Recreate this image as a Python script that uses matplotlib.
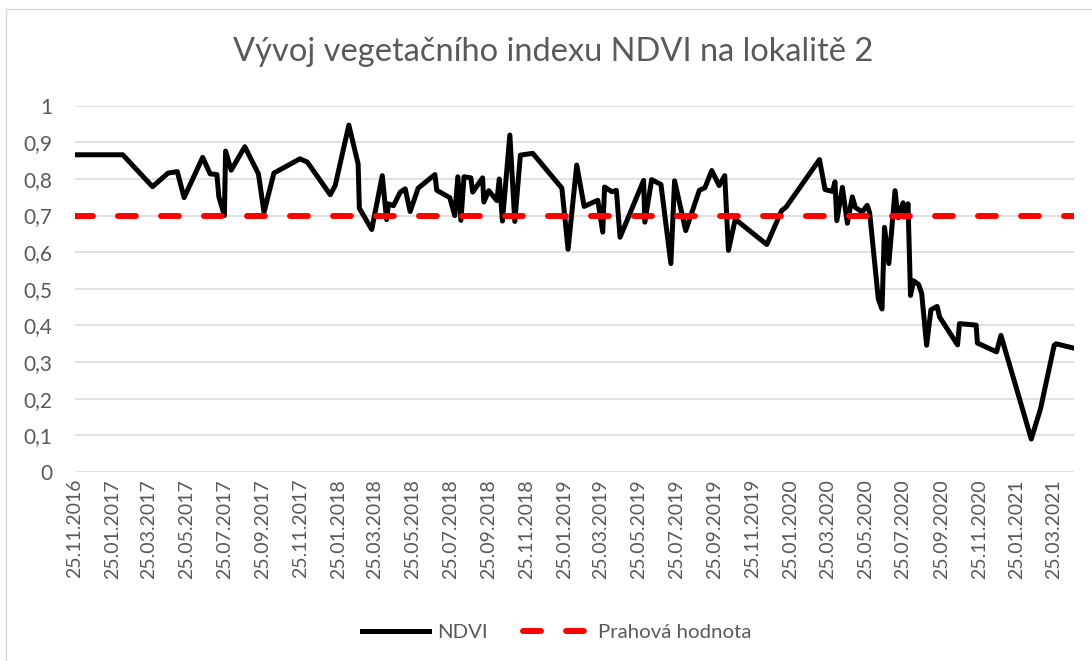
import matplotlib.pyplot as plt
import matplotlib.dates as mdates
from matplotlib.lines import Line2D
from datetime import datetime

plt.rcParams['font.family'] = ['Lato', 'DejaVu Sans']

# data
date_strings = ["25.11.2016", "11.02.2017", "31.03.2017", "25.04.2017", "10.05.2017",
                "21.05.2017", "20.06.2017", "02.07.2017", "13.07.2017", "16.07.2017",
                "25.07.2017", "27.07.2017", "05.08.2017", "27.08.2017", "18.09.2017",
                "27.09.2017", "13.10.2017", "24.11.2017", "06.12.2017", "12.01.2018",
                "20.01.2018", "11.02.2018", "26.02.2018", "28.02.2018", "20.03.2018",
                "06.04.2018", "13.04.2018", "16.04.2018", "24.04.2018", "05.05.2018",
                "13.05.2018", "21.05.2018", "03.06.2018", "30.06.2018", "03.07.2018",
                "24.07.2018", "01.08.2018", "06.08.2018", "11.08.2018", "16.08.2018",
                "27.08.2018", "30.08.2018", "15.09.2018", "17.09.2018", "25.09.2018",
                "08.10.2018", "12.10.2018", "17.10.2018", "29.10.2018", "06.11.2018",
                "15.11.2018", "05.12.2018", "21.01.2019", "31.01.2019", "14.02.2019",
                "26.02.2019", "20.03.2019", "28.03.2019", "31.03.2019", "12.04.2019",
                "19.04.2019", "25.04.2019", "02.06.2019", "04.06.2019", "15.06.2019",
                "30.06.2019", "16.07.2019", "22.07.2019", "09.08.2019", "31.08.2019",
                "09.09.2019", "20.09.2019", "02.10.2019", "11.10.2019", "17.10.2019",
                "28.10.2019", "18.12.2019", "11.01.2020", "18.01.2020", "12.03.2020",
                "21.03.2020", "02.04.2020", "06.04.2020", "09.04.2020", "18.04.2020",
                "26.04.2020", "04.05.2020", "09.05.2020", "20.05.2020", "28.05.2020",
                "01.06.2020", "15.06.2020", "21.06.2020", "25.06.2020", "02.07.2020",
                "12.07.2020", "17.07.2020", "25.07.2020", "27.07.2020", "02.08.2020",
                "06.08.2020", "11.08.2020", "19.08.2020", "24.08.2020", "01.09.2020",
                "08.09.2020", "18.09.2020", "22.09.2020", "21.10.2020", "24.10.2020",
                "20.11.2020", "22.11.2020", "23.12.2020", "30.12.2020", "17.02.2021",
                "04.03.2021", "26.03.2021", "29.03.2021", "27.04.2021"]

ndvi = [0.866, 0.866, 0.779, 0.816, 0.820, 0.749, 0.859, 0.814, 0.812, 0.752,
        0.700, 0.876, 0.824, 0.888, 0.814, 0.709, 0.816, 0.855, 0.846, 0.757,
        0.782, 0.947, 0.841, 0.720, 0.662, 0.809, 0.689, 0.732, 0.727, 0.764,
        0.773, 0.711, 0.775, 0.812, 0.769, 0.749, 0.700, 0.806, 0.687, 0.806,
        0.803, 0.764, 0.803, 0.737, 0.768, 0.741, 0.800, 0.685, 0.920, 0.684,
        0.865, 0.870, 0.775, 0.608, 0.838, 0.725, 0.742, 0.655, 0.778, 0.765,
        0.769, 0.641, 0.796, 0.682, 0.798, 0.785, 0.569, 0.795, 0.659, 0.769,
        0.776, 0.823, 0.782, 0.809, 0.605, 0.690, 0.621, 0.714, 0.723, 0.853,
        0.771, 0.766, 0.792, 0.686, 0.777, 0.679, 0.751, 0.722, 0.710, 0.728,
        0.708, 0.472, 0.445, 0.668, 0.569, 0.768, 0.694, 0.735, 0.696, 0.732,
        0.482, 0.522, 0.512, 0.488, 0.346, 0.443, 0.452, 0.423, 0.347, 0.405,
        0.401, 0.352, 0.328, 0.373, 0.090, 0.173, 0.346, 0.350, 0.338]

threshold = [0.7] * len(ndvi)

dates = [datetime.strptime(d, "%d.%m.%Y") for d in date_strings]

# popisky osy x po dvou měsících
tick_dates = []
y, m = 2016, 11
while datetime(y, m, 25) <= dates[-1]:
    tick_dates.append(datetime(y, m, 25))
    m += 2
    if m > 12:
        m -= 12
        y += 1

grey = '#595959'

fig = plt.figure(figsize=(10.92, 6.61), dpi=100)
ax = fig.add_axes([74.5 / 1092, 189 / 661, (1074 - 74.5) / 1092, (472 - 105.7) / 661])

ax.plot(dates, ndvi, color='black', linewidth=3.6, solid_joinstyle='round', label='NDVI', zorder=3)
ax.plot(dates, threshold, color='#ff0000', linewidth=4.3, linestyle=(0, (3.0, 4.2)),
        dash_capstyle='round', label='Prahová hodnota', zorder=4)

ax.set_xlim(dates[0], dates[-1])
ax.set_ylim(0, 1)
ax.set_yticks([i / 10 for i in range(11)])
ax.set_yticklabels(['0'] + ['0,%d' % i for i in range(1, 10)] + ['1'])
ax.set_xticks(tick_dates)
ax.xaxis.set_major_formatter(mdates.DateFormatter('%d.%m.%Y'))
ax.tick_params(axis='x', rotation=90, length=0, pad=5, labelsize=14, labelcolor=grey)
ax.tick_params(axis='y', length=0, pad=16, labelsize=15, labelcolor=grey)
ax.grid(axis='y', color='#d9d9d9', linewidth=1.1)
ax.set_axisbelow(True)
for s in ax.spines.values():
    s.set_visible(False)

fig.text(553 / 1092, 1 - 52 / 661, 'Vývoj vegetačního indexu NDVI na lokalitě 2',
         ha='center', va='center', fontsize=23.5, color=grey)

handles = [Line2D([], [], color='black', linewidth=3.6),
           Line2D([], [], color='#ff0000', linewidth=4.3, linestyle=(0, (3.0, 4.2)), dash_capstyle='round')]
fig.legend(handles, ['NDVI', 'Prahová hodnota'], loc='center', bbox_to_anchor=(557 / 1092, 29 / 661),
           ncol=2, frameon=False, fontsize=14.7, labelcolor=grey, handlelength=3.3,
           handletextpad=0.4, columnspacing=1.7)

# rámeček grafu
fig.add_artist(Line2D([6 / 1092, 6 / 1092], [0, 1 - 9 / 661], transform=fig.transFigure, color='#d9d9d9', linewidth=1))
fig.add_artist(Line2D([6 / 1092, 1], [1 - 9 / 661, 1 - 9 / 661], transform=fig.transFigure, color='#d9d9d9', linewidth=1))

fig.savefig('out.png', dpi=100)
